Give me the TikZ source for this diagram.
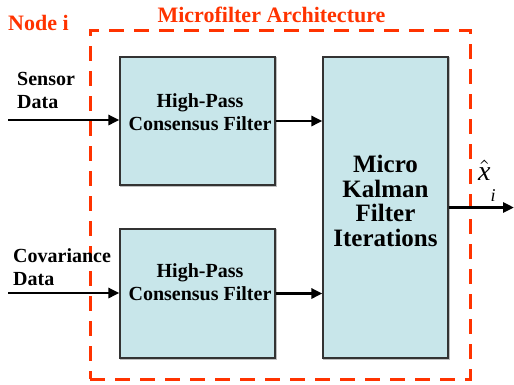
\documentclass[tikz,border=0pt]{standalone}
\usepackage{graphicx}
\usepackage{fontspec}
\setmainfont{Liberation Serif}
\newfontfamily\tnr{Liberation Serif}
\usetikzlibrary{arrows.meta}
\definecolor{archred}{HTML}{FF3300}
\definecolor{boxfill}{HTML}{C8E6EA}
\tikzset{
  x=1pt, y=-1pt,
  block/.style={draw=black!80, line width=1.2pt, fill=boxfill, inner sep=0pt},
  shadowed/.style={preaction={draw=black!25, line width=1.5pt, transform canvas={shift={(1.2pt,-1.2pt)}}}},
  arr/.style={line width=2.8pt, -{Triangle[length=11pt,width=10pt]}},
  lbl/.style={font=\tnr\bfseries\fontsize{20}{23}\selectfont, align=left, inner sep=0pt},
  blktxt/.style={font=\tnr\bfseries\fontsize{20}{23}\selectfont, align=center, inner sep=0pt},
  head/.style={font=\tnr\bfseries\fontsize{22}{26}\selectfont, text=archred, inner sep=0pt},
}
\begin{document}
\begin{tikzpicture}
\useasboundingbox (0,0) rectangle (514,384);

% dashed boundary of the microfilter
\node[draw=archred, line width=3pt, dash pattern=on 15pt off 10pt,
      minimum width=380pt, minimum height=349pt, inner sep=0pt] (arch) at (280,204.5) {};

% headings
\node[head, anchor=base] (archlbl) at (271.5,22.7) {Microfilter Architecture};
\node[head, anchor=base west] (nodelbl) at (8,30.7) {Node i};

% filter blocks
\node[block, shadowed, minimum width=155pt, minimum height=128pt] (hp1) at (197.5,121) {};
\node[block, shadowed, minimum width=155pt, minimum height=129pt] (hp2) at (197.5,293.5) {};
\node[block, shadowed, minimum width=125pt, minimum height=301pt] (mk) at (385.5,207.5) {};

% block texts (base anchor sits on the last line)
\node[blktxt, anchor=base] (hp1t) at (200,130) {High-Pass\\Consensus Filter};
\node[blktxt, anchor=base] (hp2t) at (200,300) {High-Pass\\Consensus Filter};
\node[font=\tnr\bfseries\fontsize{25}{24.5}\selectfont, align=center, inner sep=0pt, anchor=base]
  (mkt) at (385.5,246) {Micro\\Kalman\\Filter\\Iterations};

% output label: estimate x-hat with subscript i
\node[inner sep=0pt, anchor=base west]
  (xhat) at (478,180) {\scalebox{2.8}{$\hat{\mbox{\tnr\itshape x}}$}\raisebox{-21pt}{\scalebox{1.8}{\tnr\itshape i}}};

% input labels
\node[lbl, anchor=base west] (sens) at (17,108) {Sensor\\Data};
\node[lbl, anchor=base west] (cov) at (13,285) {Covariance\\Data};

% connectors
\coordinate (sin) at (8,120);
\coordinate (cin) at (8,293);
\coordinate (xout) at (514,207.5);
\draw[arr] (sin) -- (sin -| hp1.west);
\draw[arr] (cin) -- (cin -| hp2.west);
\draw[arr] (hp1.east) -- (hp1.east -| mk.west);
\draw[arr] (hp2.east) -- (hp2.east -| mk.west);
\draw[arr] (mk.east) -- (xout);
\end{tikzpicture}
\end{document}
